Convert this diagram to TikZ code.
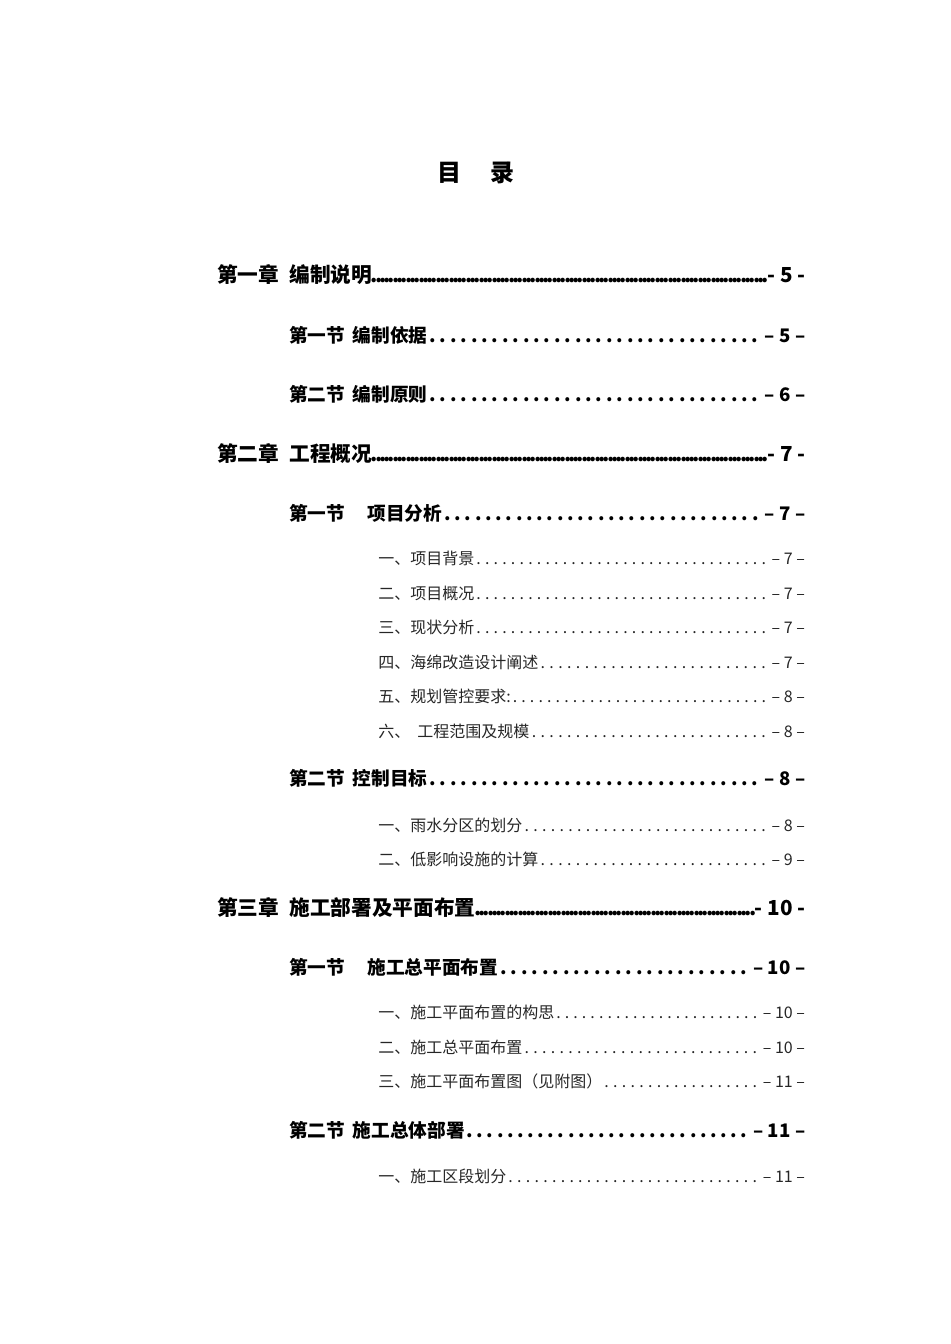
\documentclass[tikz,border=0pt]{standalone}
\usepackage{fontspec}
\setmainfont{Noto Sans CJK SC}
\newcommand{\dotsA}{\xleaders\hbox to 3.2pt{\hss.\hss}\hfill}
\newcommand{\dotsB}{\xleaders\hbox to 7.6pt{\hss.\hss}\hfill}
\newcommand{\dotsC}{\xleaders\hbox to 6.4pt{\hss.\hss}\hfill}
\tikzset{
 chap/.style={anchor=base west,inner sep=0pt,font=\fontsize{15.5}{18}\selectfont\bfseries},
 sect/.style={anchor=base west,inner sep=0pt,font=\fontsize{14}{17}\selectfont\bfseries},
 sub/.style={anchor=base west,inner sep=0pt,font=\fontsize{12}{14}\selectfont},
}
\newcommand{\chapline}[4]{\node[chap] (#1) at (217,#2) {\makebox[441pt]{#3\dotsA#4}};}
\newcommand{\sectline}[4]{\node[sect] (#1) at (289,#2) {\makebox[387pt]{#3\dotsB\ #4}};}
\newcommand{\subline}[4]{\node[sub,text=black!85] (#1) at (378,#2) {\makebox[320pt]{#3\dotsC\ #4}};}
\begin{document}
\begin{tikzpicture}[x=0.75pt,y=-0.75pt]
\useasboundingbox (0,0) rectangle (950,1344);
\node[font=\fontsize{18}{20}\selectfont\bfseries] (title) at (476,173) {目\hspace{1.2em}录};
\chapline{c1}{282}{第一章\hspace{0.5em}编制说明}{- 5 -}
\sectline{s11}{342}{第一节\hspace{0.4em}编制依据}{–\ 5\ –}
\sectline{s12}{401}{第二节\hspace{0.4em}编制原则}{–\ 6\ –}
\chapline{c2}{461}{第二章\hspace{0.5em}工程概况}{- 7 -}
\sectline{s21}{520}{第一节\hspace{1.2em}项目分析}{–\ 7\ –}
\subline{a1}{564}{一、项目背景}{–\ 7\ –}
\subline{a2}{599}{二、项目概况}{–\ 7\ –}
\subline{a3}{633}{三、现状分析}{–\ 7\ –}
\subline{a4}{668}{四、海绵改造设计阐述}{–\ 7\ –}
\subline{a5}{702}{五、规划管控要求:}{–\ 8\ –}
\subline{a6}{737}{六、\ \ 工程范围及规模}{–\ 8\ –}
\sectline{s22}{785}{第二节\hspace{0.4em}控制目标}{–\ 8\ –}
\subline{b1}{831}{一、雨水分区的划分}{–\ 8\ –}
\subline{b2}{865}{二、低影响设施的计算}{–\ 9\ –}
\chapline{c3}{915}{第三章\hspace{0.5em}施工部署及平面布置}{- 10 -}
\sectline{s31}{974}{第一节\hspace{1.2em}施工总平面布置}{–\ 10\ –}
\subline{d1}{1018}{一、施工平面布置的构思}{–\ 10\ –}
\subline{d2}{1053}{二、施工总平面布置}{–\ 10\ –}
\subline{d3}{1087}{三、施工平面布置图（见附图）}{–\ 11\ –}
\sectline{s32}{1137}{第二节\hspace{0.4em}施工总体部署}{–\ 11\ –}
\subline{e1}{1182}{一、施工区段划分}{–\ 11\ –}
\end{tikzpicture}
\end{document}
